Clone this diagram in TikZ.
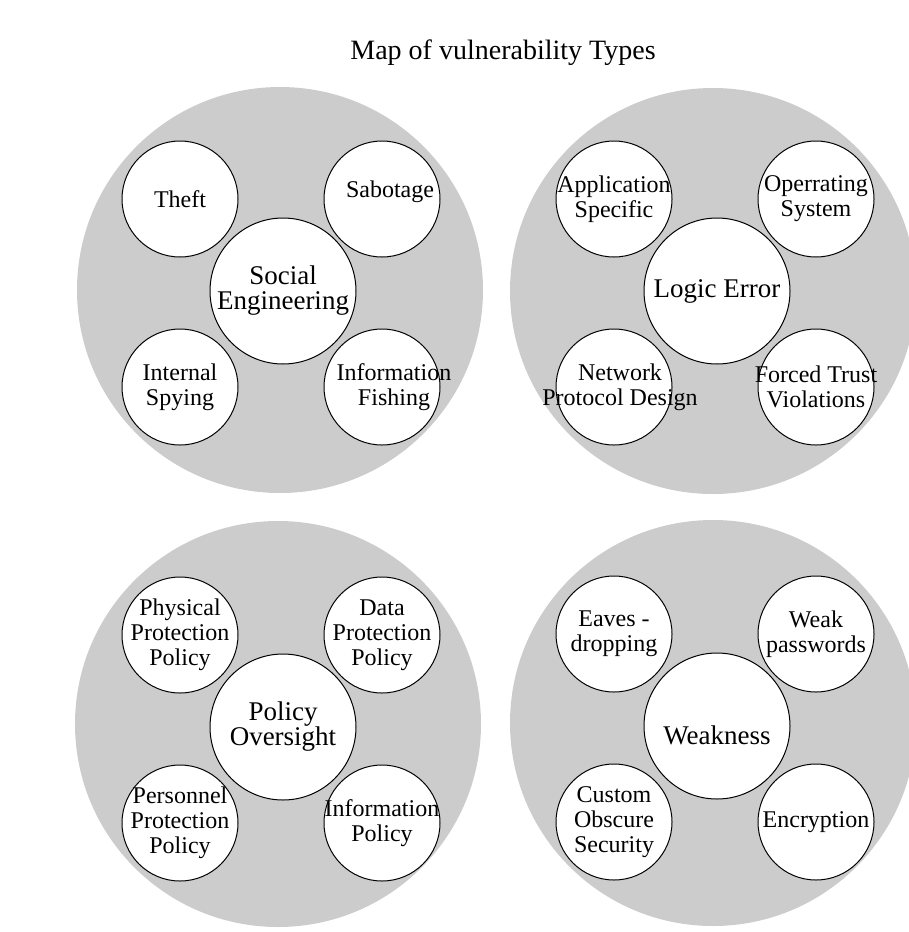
\documentclass[tikz,border=0pt]{standalone}
\usepackage{fontspec}
\setmainfont{Liberation Serif}
\usetikzlibrary{positioning}
\definecolor{zonegray}{RGB}{204,204,204}
\tikzset{
	zone/.style={circle, fill=zonegray, minimum size=406pt}, % the big grey discs
	hub/.style={circle, draw, line width=1pt, fill=white, minimum size=146pt}, % centre circle of each group
	sat/.style={circle, draw, line width=1pt, fill=white, minimum size=116pt}, % the four small circles
	hubtext/.style={align=center, font=\fontsize{27}{25}\selectfont},
	sattext/.style={align=center, font=\fontsize{24}{25}\selectfont},
}

\begin{document}
\begin{tikzpicture}[x=1pt, y=-1pt]
	\useasboundingbox (0,0) rectangle (908,932);
	\node[font=\fontsize{28}{30}\selectfont] (title) at (503,53) {Map of vulnerability Types};

	% top left group
	\node[zone] (zone1) at (280,290) {};
	\node[hub, label={[hubtext]center:Social\\Engineering}] (hub1) at (283,291) {};
	\node[sat, on grid, above left=92pt and 103pt of hub1, label={[sattext]center:Theft}] (theft) {};
	\node[sat, on grid, above right=92pt and 99pt of hub1, label={[sattext, xshift=8pt, yshift=7pt]center:Sabotage}] (sabotage) {};
	\node[sat, on grid, below left=96pt and 103pt of hub1, label={[sattext]center:Internal\\Spying}] (spying) {};
	\node[sat, on grid, below right=96pt and 99pt of hub1, label={[sattext, xshift=12pt]center:Information\\Fishing}] (fishing) {};

	% top right group
	\node[zone] (zone2) at (713,291) {};
	\node[hub, label={[hubtext]center:Logic Error}] (hub2) at (717,291) {};
	\node[sat, on grid, above left=92pt and 103pt of hub2, label={[sattext]center:Application\\Specific}] (appspec) {};
	\node[sat, on grid, above right=92pt and 99pt of hub2, label={[sattext]center:Operrating\\System}] (opsys) {};
	\node[sat, on grid, below left=96pt and 103pt of hub2, label={[sattext, xshift=6pt]center:Network\\Protocol Design}] (netproto) {};
	\node[sat, on grid, below right=96pt and 99pt of hub2, label={[sattext]center:Forced Trust\\Violations}] (trust) {};

	% bottom left group
	\node[zone] (zone3) at (278,724) {};
	\node[hub, label={[hubtext]center:Policy\\Oversight}] (hub3) at (283,727) {};
	\node[sat, on grid, above left=92pt and 103pt of hub3, label={[sattext]center:Physical\\Protection\\Policy}] (physpol) {};
	\node[sat, on grid, above right=92pt and 99pt of hub3, label={[sattext]center:Data\\Protection\\Policy}] (datapol) {};
	\node[sat, on grid, below left=96pt and 103pt of hub3, label={[sattext]center:Personnel\\Protection\\Policy}] (perspol) {};
	\node[sat, on grid, below right=96pt and 99pt of hub3, label={[sattext]center:Information\\Policy}] (infopol) {};

	% bottom right group
	\node[zone] (zone4) at (713,723) {};
	\node[hub, label={[hubtext, yshift=-9pt]center:Weakness}] (hub4) at (717,726) {};
	\node[sat, on grid, above left=92pt and 103pt of hub4, label={[sattext]center:Eaves -\\dropping}] (eaves) {};
	\node[sat, on grid, above right=92pt and 99pt of hub4, label={[sattext]center:Weak\\passwords}] (weakpw) {};
	\node[sat, on grid, below left=96pt and 103pt of hub4, label={[sattext]center:Custom\\Obscure\\Security}] (obscure) {};
	\node[sat, on grid, below right=96pt and 99pt of hub4, label={[sattext]center:Encryption}] (crypt) {};
\end{tikzpicture}
\end{document}
